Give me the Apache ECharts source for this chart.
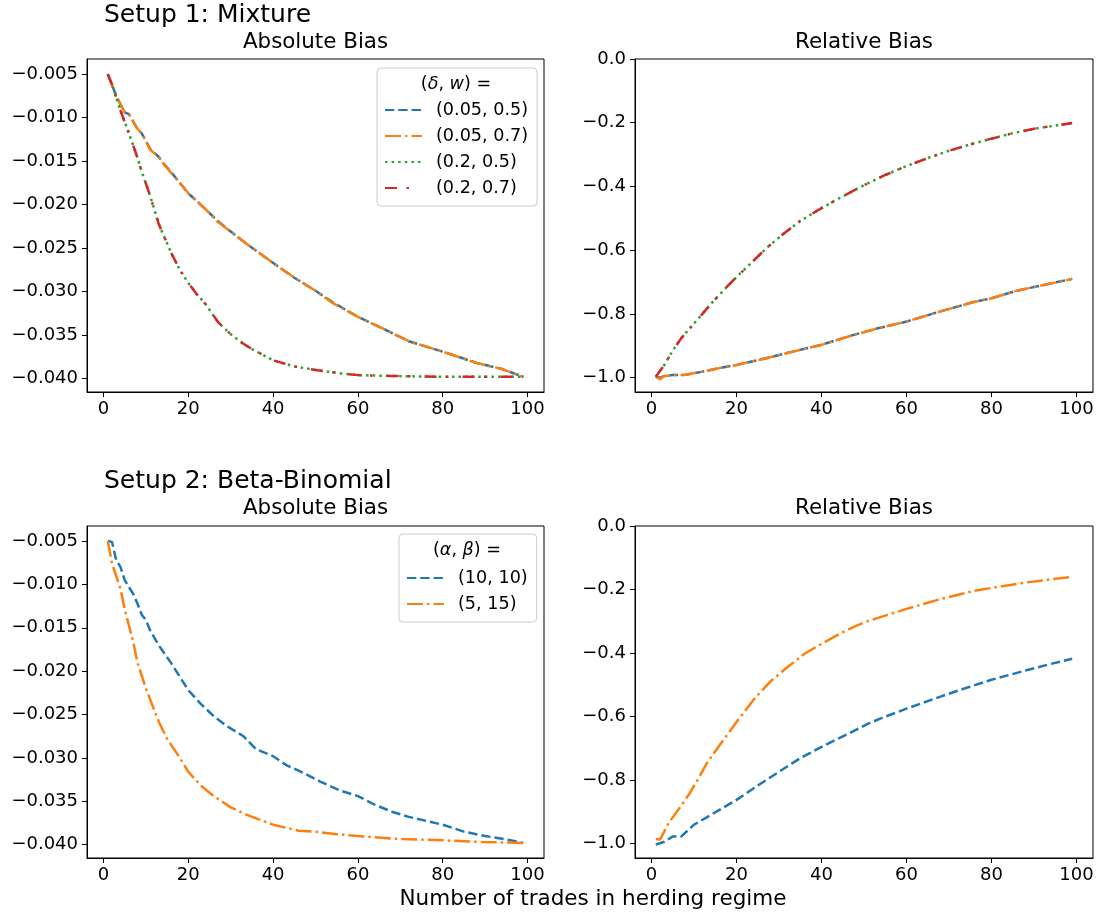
<!DOCTYPE html>
<html><head><meta charset="utf-8">
<script src="https://cdn.jsdelivr.net/npm/echarts@6/dist/echarts.min.js"></script>
<style>html,body{margin:0;padding:0;background:#fff}#c{width:1101px;height:917px}</style>
</head><body><div id="c"></div>
<script>
// ---------- Data ----------
// Setup 1: Mixture, Absolute Bias
const mixAbsX_d05 = [1, 3, 5, 6, 8, 9, 10, 11, 13, 14, 16, 18, 20, 24, 27, 30, 34, 40, 45, 50, 54, 60, 67, 72, 80, 88, 94, 99];
const mixAbs_005_05 = [-0.0050, -0.0075, -0.0094, -0.0096, -0.0113, -0.0118, -0.0127, -0.0136, -0.0145, -0.0152, -0.0163, -0.0175, -0.0187, -0.0205, -0.0219, -0.0231, -0.0246, -0.0267, -0.0284, -0.0299, -0.0312, -0.0329, -0.0345, -0.0357, -0.0369, -0.0382, -0.0389, -0.0398];
const mixAbs_005_07 = [-0.0050, -0.0075, -0.0094, -0.0096, -0.0113, -0.0118, -0.0127, -0.0137, -0.0145, -0.0152, -0.0164, -0.0175, -0.0187, -0.0205, -0.0220, -0.0231, -0.0246, -0.0267, -0.0284, -0.0299, -0.0313, -0.0329, -0.0345, -0.0357, -0.0369, -0.0382, -0.0389, -0.0398];
const mixAbsX_d2 = [1, 2, 4, 6, 8, 9, 11, 13, 16, 18, 20, 22, 24, 27, 30, 33, 35, 40, 45, 50, 56, 60, 68, 80, 99];
const mixAbs_02_05 = [-0.0050, -0.0062, -0.0092, -0.0118, -0.0146, -0.0162, -0.0190, -0.0222, -0.0256, -0.0275, -0.0290, -0.0303, -0.0314, -0.0335, -0.0349, -0.0360, -0.0366, -0.0379, -0.0386, -0.0390, -0.0394, -0.0396, -0.0397, -0.0398, -0.0398];
const mixAbs_02_07 = [-0.0050, -0.0062, -0.0092, -0.0118, -0.0146, -0.0162, -0.0190, -0.0222, -0.0256, -0.0275, -0.0290, -0.0303, -0.0314, -0.0335, -0.0349, -0.0360, -0.0366, -0.0379, -0.0386, -0.0390, -0.0394, -0.0396, -0.0397, -0.0398, -0.0398];
// Setup 1: Mixture, Relative Bias
const mixRelX_d05 = [1, 2, 3, 5, 8, 12, 16, 20, 27, 33, 40, 47, 53, 60, 68, 76, 80, 86, 99];
const mixRel_005_05 = [-0.997, -1.000, -0.995, -0.992, -0.991, -0.981, -0.970, -0.960, -0.939, -0.919, -0.897, -0.868, -0.846, -0.824, -0.792, -0.762, -0.751, -0.727, -0.690];
const mixRel_005_07 = [-0.997, -1.005, -0.995, -0.992, -0.991, -0.981, -0.970, -0.960, -0.939, -0.919, -0.897, -0.868, -0.846, -0.824, -0.792, -0.762, -0.751, -0.727, -0.690];
const mixRelX_d2 = [1, 3, 5, 7, 9, 11, 14, 17, 20, 24, 27, 31, 35, 40, 45, 50, 55, 60, 65, 70, 75, 80, 85, 90, 95, 99];
const mixRel_02_05 = [-0.997, -0.960, -0.915, -0.876, -0.845, -0.815, -0.768, -0.725, -0.684, -0.633, -0.594, -0.549, -0.508, -0.468, -0.431, -0.396, -0.364, -0.336, -0.311, -0.288, -0.268, -0.250, -0.233, -0.219, -0.209, -0.201];
const mixRel_02_07 = [-0.997, -0.960, -0.915, -0.876, -0.845, -0.815, -0.768, -0.725, -0.684, -0.633, -0.594, -0.549, -0.508, -0.468, -0.431, -0.396, -0.364, -0.336, -0.311, -0.288, -0.268, -0.250, -0.233, -0.219, -0.209, -0.201];
// Setup 2: Beta-Binomial, Absolute Bias
const bbAbsX_1010 = [1, 2, 3, 4, 5, 7, 8, 9, 10, 11, 13, 16, 20, 23, 26, 29, 33, 36, 40, 43, 47, 51, 56, 60, 64, 68, 72, 80, 85, 90, 95, 99];
const bbAbs_1010 = [-0.0050, -0.0051, -0.0072, -0.0080, -0.0095, -0.0111, -0.0122, -0.0135, -0.0141, -0.0153, -0.0170, -0.0191, -0.0222, -0.0238, -0.0252, -0.0263, -0.0275, -0.0290, -0.0298, -0.0308, -0.0317, -0.0327, -0.0338, -0.0344, -0.0354, -0.0362, -0.0368, -0.0377, -0.0385, -0.0390, -0.0394, -0.0398];
const bbAbsX_515 = [1, 2, 4, 5, 7, 8, 10, 13, 15, 18, 20, 23, 26, 30, 34, 40, 46, 50, 55, 60, 68, 80, 89, 99];
const bbAbs_515 = [-0.0050, -0.0076, -0.0105, -0.0129, -0.0166, -0.0190, -0.0220, -0.0258, -0.0278, -0.0300, -0.0316, -0.0332, -0.0344, -0.0357, -0.0366, -0.0377, -0.0384, -0.0385, -0.0388, -0.0390, -0.0393, -0.0395, -0.0397, -0.0398];
// Setup 2: Beta-Binomial, Relative Bias
const bbRelX_1010 = [1, 3, 5, 7, 10, 14, 20, 25, 29, 35, 40, 46, 51, 55, 60, 64, 68, 74, 80, 88, 94, 99];
const bbRel_1010 = [-1.003, -0.994, -0.977, -0.977, -0.940, -0.909, -0.862, -0.817, -0.782, -0.731, -0.695, -0.656, -0.622, -0.600, -0.575, -0.556, -0.537, -0.510, -0.484, -0.455, -0.434, -0.418];
const bbRelX_515 = [1, 2, 4, 7, 9, 11, 13, 16, 20, 24, 28, 32, 36, 40, 45, 48, 51, 55, 60, 68, 76, 80, 88, 94, 99];
const bbRel_515 = [-0.985, -0.987, -0.935, -0.880, -0.841, -0.795, -0.747, -0.690, -0.617, -0.547, -0.489, -0.444, -0.402, -0.371, -0.334, -0.315, -0.299, -0.282, -0.261, -0.230, -0.204, -0.195, -0.178, -0.168, -0.160];

// Tick labels
const xTicks = [0, 20, 40, 60, 80, 100];
const absTicks = [-0.040, -0.035, -0.030, -0.025, -0.020, -0.015, -0.010, -0.005];
const relTicks = [-1.0, -0.8, -0.6, -0.4, -0.2, 0.0];

// Legend names
const mixNames = ['(0.05, 0.5)', '(0.05, 0.7)', '(0.2, 0.5)', '(0.2, 0.7)'];
const bbNames = ['(10, 10)', '(5, 15)'];

// ---------- Chart ----------
const FONT = 'DejaVu Sans';
const TICK_FS = 18;
const C = {blue: '#1f77b4', orange: '#ff7f0e', green: '#2ca02c', red: '#d62728'};
const LW = 2.5;
const DASH = [9.3, 4.0];
const DASHDOT = [16, 4.0, 2.5, 4.0];
const DOT = [2.5, 4.1];
const LOOSE = [12, 9.5, 2.5, 14];

const grids = [
  {left: 87, top: 59, width: 457, height: 333},
  {left: 635, top: 59, width: 458, height: 333},
  {left: 87, top: 526, width: 457, height: 332},
  {left: 635, top: 526, width: 458, height: 332}
];
const minus = s => s.replace('-', '\u2212');
function xAxis(i) {
  return {
    type: 'value', gridIndex: i, min: -3.9, max: 103.9,
    axisLine: {show: true, onZero: false, lineStyle: {color: '#000', width: 1}},
    axisTick: {show: true, length: 5, lineStyle: {color: '#000', width: 1}, customValues: xTicks},
    axisLabel: {customValues: xTicks, color: '#000', fontFamily: FONT, fontSize: TICK_FS, margin: 8,
      formatter: v => String(Math.round(v))},
    splitLine: {show: false}
  };
}
function yAxis(i, rel) {
  const ticks = rel ? relTicks : absTicks;
  return {
    type: 'value', gridIndex: i,
    min: rel ? -1.045 : -0.04154, max: rel ? 0 : -0.00326,
    axisLine: {show: true, onZero: false, lineStyle: {color: '#000', width: 1}},
    axisTick: {show: true, length: 5, lineStyle: {color: '#000', width: 1}, customValues: ticks},
    axisLabel: {customValues: ticks, color: '#000', fontFamily: FONT, fontSize: TICK_FS, margin: 9,
      formatter: v => minus(v.toFixed(rel ? 1 : 3))},
    splitLine: {show: false}
  };
}
function pairs(xs, ys) { return xs.map((x, k) => [x, ys[k]]); }
function line(name, gi, xs, ys, color, type, z) {
  return {
    type: 'line', name, xAxisIndex: gi, yAxisIndex: gi, data: pairs(xs, ys),
    symbol: 'none', showSymbol: false, smooth: false, z: z,
    lineStyle: {color, width: LW, type, cap: 'butt'}, itemStyle: {color},
    emphasis: {disabled: true}
  };
}
const series = [
  line(mixNames[0], 0, mixAbsX_d05, mixAbs_005_05, C.blue, DASH, 2),
  line(mixNames[1], 0, mixAbsX_d05, mixAbs_005_07, C.orange, DASHDOT, 3),
  line(mixNames[2], 0, mixAbsX_d2, mixAbs_02_05, C.green, DOT, 4),
  line(mixNames[3], 0, mixAbsX_d2, mixAbs_02_07, C.red, LOOSE, 5),
  line(mixNames[0], 1, mixRelX_d05, mixRel_005_05, C.blue, DASH, 2),
  line(mixNames[1], 1, mixRelX_d05, mixRel_005_07, C.orange, DASHDOT, 3),
  line(mixNames[2], 1, mixRelX_d2, mixRel_02_05, C.green, DOT, 4),
  line(mixNames[3], 1, mixRelX_d2, mixRel_02_07, C.red, LOOSE, 5),
  line(bbNames[0], 2, bbAbsX_1010, bbAbs_1010, C.blue, DASH, 2),
  line(bbNames[1], 2, bbAbsX_515, bbAbs_515, C.orange, DASHDOT, 3),
  line(bbNames[0] + ' ', 3, bbRelX_1010, bbRel_1010, C.blue, DASH, 2),
  line(bbNames[1] + ' ', 3, bbRelX_515, bbRel_515, C.orange, DASHDOT, 3)
];
function legend(names, left, top, padTop) {
  return {
    data: names, orient: 'vertical', left, top,
    padding: [padTop, 9, 9, 7],
    itemWidth: 37, itemHeight: 18, itemGap: 8,
    itemStyle: {opacity: 0, borderWidth: 0},
    lineStyle: {opacity: 1},
    backgroundColor: 'rgba(255,255,255,0.8)', borderColor: '#cccccc', borderWidth: 1, borderRadius: 4,
    textStyle: {color: '#000', fontFamily: FONT, fontSize: 17.6, lineHeight: 18, padding: [0, 0, 0, 9]},
    selectedMode: false, z: 10
  };
}
function txt(text, x, y, size, align) {
  return {type: 'text', x, y, z: 20, style: {text, fill: '#000', font: size + 'px "' + FONT + '"',
    textAlign: align || 'center', textVerticalAlign: 'middle'}};
}
function richTxt(parts, x, y) {
  return {type: 'text', x, y, z: 20, style: {
    text: parts, textAlign: 'center', textVerticalAlign: 'middle', fill: '#000',
    fontFamily: FONT, fontSize: 17.6,
    rich: {n: {fontFamily: FONT, fontSize: 17.6, fill: '#000'},
           i: {fontFamily: FONT, fontSize: 17.6, fontStyle: 'italic', fill: '#000'}}
  }};
}
const option = {
  animation: false,
  backgroundColor: '#fff',
  grid: grids.map(g => Object.assign({show: true, borderColor: '#000', borderWidth: 1, backgroundColor: 'transparent', containLabel: false}, g)),
  xAxis: [0, 1, 2, 3].map(xAxis),
  yAxis: [yAxis(0, false), yAxis(1, true), yAxis(2, false), yAxis(3, true)],
  legend: [legend(mixNames, 377, 68, 33), legend(bbNames, 399, 534, 35)],
  series,
  graphic: [
    txt('Setup 1: Mixture', 104, 15, 25, 'left'),
    txt('Absolute Bias', 315.5, 42, 21.4),
    txt('Relative Bias', 864, 42, 21.4),
    txt('Setup 2: Beta-Binomial', 104, 481, 25, 'left'),
    txt('Absolute Bias', 315.5, 508, 21.4),
    txt('Relative Bias', 864, 508, 21.4),
    txt('Number of trades in herding regime', 593, 899, 21.5),
    richTxt('{n|(}{i|δ}{n|, }{i|w}{n|) =}', 456, 84),
    richTxt('{n|(}{i|α}{n|, }{i|β}{n|) =}', 467, 550)
  ]
};
const chart = echarts.init(document.getElementById('c'), null, {renderer: 'canvas'});
chart.setOption(option);
</script>
</body></html>
